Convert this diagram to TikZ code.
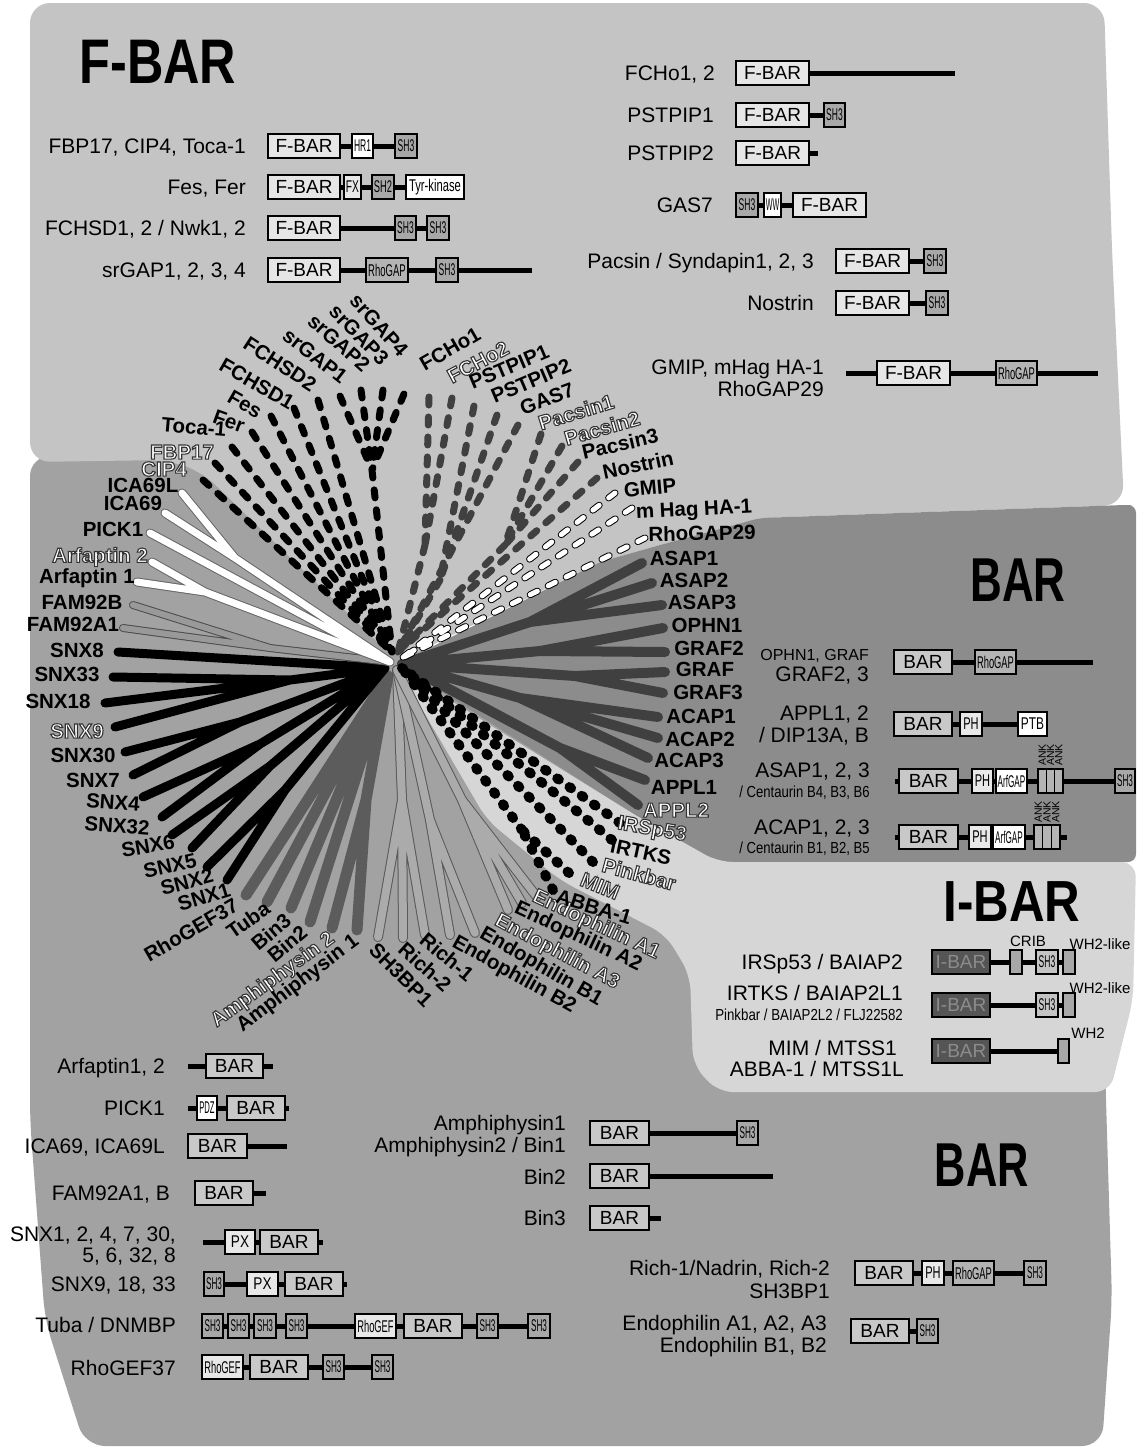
\documentclass[tikz,border=0pt]{standalone}
\usepackage{fontspec}
\setmainfont{Liberation Sans}
\definecolor{fbarbg}{HTML}{C4C4C4}
\definecolor{barbg}{HTML}{A2A2A2}
\definecolor{rbarbg}{HTML}{8C8C8C}
\definecolor{ibarbg}{HTML}{D6D6D6}
\definecolor{colF}{HTML}{E6E6E6}
\definecolor{colB}{HTML}{C8C8C8}
\definecolor{colS}{HTML}{A8A8A8}
\definecolor{colL}{HTML}{E8E8E8}
\definecolor{colR}{HTML}{B4B4B4}
\definecolor{colI}{HTML}{555555}
\definecolor{colIS}{HTML}{C4C4C4}
\pgfdeclarelayer{regions}
\pgfdeclarelayer{backbones}
\pgfsetlayers{regions,backbones,main}
\newcommand\nr[2][0.5]{\scalebox{#1}[1]{#2}}
\newcommand\ol[1]{{\color{white}\special{pdf:literal direct 2 Tr 1.1 w 0.2 G}#1\special{pdf:literal direct 0 Tr}}}
\newcommand\dm[7][dom]{\node[#1,fill=#6,minimum width={(#4-#3)*1pt}] (#2) at ({(#3+#4)/2},#5) {#7};}
\tikzset{
 dom/.style={draw=black,line width=1.3pt,minimum height=24pt,inner sep=0pt,font=\fontsize{19}{19}\selectfont},
 sm/.style={dom,font=\fontsize{17}{17}\selectfont},
 bb/.style={line width=5pt},
 lab/.style={anchor=base east,inner sep=0pt,font=\fontsize{21}{21}\selectfont,yshift=-7.5pt},
 slab/.style={anchor=base east,inner sep=0pt,font=\fontsize{16}{16}\selectfont,yshift=-5.7pt},
 tl/.style={inner sep=0pt,font=\fontsize{20.5}{20.5}\selectfont\bfseries},
 ttl/.style={inner sep=0pt},
 smallnote/.style={inner sep=0pt,font=\fontsize{15}{15}\selectfont},
 ank/.style={inner sep=0pt,rotate=90,font=\fontsize{10.5}{10.5}\selectfont},
 fbk/.style={line width=7pt,line cap=round,dash pattern=on 8pt off 12pt,draw=black},
 fdg/.style={line width=7pt,line cap=round,dash pattern=on 8pt off 12pt,draw=black!75},
 fwh/.style={line width=1pt,double=white,double distance=5pt,line cap=round,dash pattern=on 8pt off 12pt,draw=black},
 bwh/.style={line width=1pt,double=white,double distance=7pt,line cap=round,draw=black!60},
 bfam/.style={line width=1pt,double=black!40,double distance=6pt,line cap=round,draw=black!70},
 bsnx/.style={line width=9pt,line cap=round,draw=black},
 bamp/.style={line width=11pt,line cap=round,draw=black!64},
 brich/.style={line width=1pt,double=black!33,double distance=8pt,line cap=round,draw=black!65},
 basap/.style={line width=10pt,line cap=round,draw=black!75},
 bibar/.style={line width=10pt,line cap=round,dash pattern=on 2pt off 13pt,draw=black},
}
\begin{document}
\begin{tikzpicture}[x=1pt,y=-1pt]
\useasboundingbox (0,0) rectangle (1136,1456);
% ---------------- background regions
\begin{pgfonlayer}{regions}
\fill[white] (0,0) rectangle (1136,1456);
\fill[barbg,rounded corners=20pt] (30,456) -- (420,456) -- (420,640) -- (640,818) -- (718,862) -- (1105,1060) -- (1106,1100) -- (1112,1300) -- (1102,1446) -- (85,1446) -- (45,1320) -- (30,1120) -- cycle;
\fill[fbarbg,rounded corners=20pt] (30,462) -- (30,3) -- (1104,3) -- (1112,250) -- (1124,505) -- (760,518) -- (660,545) -- (600,562) -- (398,662) -- (200,470) -- (165,460) -- cycle;
\fill[rbarbg,rounded corners=8pt] (398,664) -- (600,562) -- (660,545) -- (760,518) -- (1124,505) -- (1136,505) -- (1136,862) -- (718,862) -- (640,818) -- cycle;
\fill[ibarbg,rounded corners=15pt] (398,668) -- (640,818) -- (718,862) -- (1136,862) -- (1133,1000) -- (1110,1092) -- (718,1092) -- (693,1065) -- (690,975) -- (666,935) -- (560,880) -- (487,820) -- cycle;
\end{pgfonlayer}
% ---------------- titles
\node[ttl] (tF) at (158,62) {\scalebox{0.8}[1]{\fontsize{63}{63}\selectfont\bfseries F-BAR}};
\node[ttl] (tB1) at (1018,580) {\scalebox{0.71}[1]{\fontsize{62}{62}\selectfont\bfseries BAR}};
\node[ttl] (tI) at (1012,902) {\scalebox{0.85}[1]{\fontsize{58}{58}\selectfont\bfseries I-BAR}};
\node[ttl] (tB2) at (982,1165) {\scalebox{0.70}[1]{\fontsize{62}{62}\selectfont\bfseries BAR}};
% ---------------- F-BAR rows, left
\node[lab] (a1t) at (246,146) {FBP17, CIP4, Toca-1};
\dm{a1f}{268}{340}{146}{colF}{F-BAR}
\dm[sm]{a1b}{352}{373}{146}{white}{\nr{HR1}}
\dm[sm]{a1c}{395}{417}{146}{colS}{\nr{SH3}}
\node[lab] (a2t) at (246,187) {Fes, Fer};
\dm{a2f}{268}{340}{187}{colF}{F-BAR}
\dm[sm]{a2b}{344}{361}{187}{colL}{\nr[0.6]{FX}}
\dm[sm]{a2c}{372}{394}{187}{colS}{\nr[0.55]{SH2}}
\dm[sm]{a2d}{406}{464}{187}{white}{\nr[0.66]{Tyr-kinase}}
\node[lab] (a3t) at (246,228) {FCHSD1, 2 / Nwk1, 2};
\dm{a3f}{268}{340}{228}{colF}{F-BAR}
\dm[sm]{a3b}{395}{416}{228}{colS}{\nr{SH3}}
\dm[sm]{a3c}{427}{449}{228}{colS}{\nr{SH3}}
\node[lab] (a4t) at (246,270) {srGAP1, 2, 3, 4};
\coordinate (a4e) at (532,270);
\dm{a4f}{268}{340}{270}{colF}{F-BAR}
\dm[sm]{a4b}{366}{408}{270}{colR}{\nr[0.56]{RhoGAP}}
\dm[sm]{a4c}{436}{458}{270}{colS}{\nr{SH3}}
% ---------------- F-BAR rows, right
\node[lab] (b1t) at (715,73) {FCHo1, 2};
\coordinate (b1e) at (955,73);
\dm{b1f}{736}{809}{73}{colF}{F-BAR}
\node[lab] (b2t) at (714,115) {PSTPIP1};
\dm{b2f}{736}{809}{115}{colF}{F-BAR}
\dm[sm]{b2b}{824}{845}{115}{colS}{\nr{SH3}}
\node[lab] (b3t) at (714,153) {PSTPIP2};
\coordinate (b3e) at (818,153);
\dm{b3f}{736}{809}{153}{colF}{F-BAR}
\node[lab] (b4t) at (713,205) {GAS7};
\dm[sm]{b4a}{736}{758}{205}{colS}{\nr{SH3}}
\dm[sm]{b4b}{764}{781}{205}{white}{\nr[0.42]{WW}}
\dm{b4f}{793}{866}{205}{colF}{F-BAR}
\node[lab] (b5t) at (814,261) {Pacsin / Syndapin1, 2, 3};
\dm{b5f}{836}{909}{261}{colF}{F-BAR}
\dm[sm]{b5b}{924}{946}{261}{colS}{\nr{SH3}}
\node[lab] (b6t) at (814,303) {Nostrin};
\dm{b6f}{836}{909}{303}{colF}{F-BAR}
\dm[sm]{b6b}{926}{948}{303}{colS}{\nr{SH3}}
\node[lab] (b7t) at (824,367) {GMIP, mHag HA-1};
\node[lab] (b7u) at (824,389) {RhoGAP29};
\coordinate (b7s) at (846,373);
\coordinate (b7e) at (1098,373);
\dm{b7f}{877}{950}{373}{colF}{F-BAR}
\dm[sm]{b7b}{996}{1037}{373}{colR}{\nr[0.55]{RhoGAP}}
% ---------------- BAR rows, right
\node[slab] (c1t) at (869,655) {OPHN1, GRAF};
\node[lab] (c1u) at (869,674) {GRAF2, 3};
\coordinate (c1e) at (1093,662);
\dm{c1f}{894}{952}{662}{colB}{BAR}
\dm[sm]{c1b}{975}{1016}{662}{colR}{\nr[0.55]{RhoGAP}}
\node[lab] (c2t) at (869,713) {APPL1, 2};
\node[lab] (c2u) at (869,735) {/ DIP13A, B};
\dm{c2f}{894}{952}{724}{colB}{BAR}
\dm[sm]{c2b}{960}{982}{724}{colL}{\nr[0.65]{PH}}
\dm[sm]{c2c}{1018}{1047}{724}{white}{\nr[0.7]{PTB}}
\node[lab] (c3t) at (870,770) {ASAP1, 2, 3};
\node[slab] (c3u) at (870,792) {\nr[0.82]{/ Centaurin B4, B3, B6}};
\coordinate (c3s) at (895,781);
\coordinate (c3e) at (1136,781);
\dm{c3f}{899}{958}{781}{colB}{BAR}
\dm[sm]{c3b}{972}{993}{781}{colL}{\nr[0.65]{PH}}
\dm[sm]{c3c}{996}{1027}{781}{white}{\nr[0.48]{ArfGAP}}
\dm[sm]{c3d1}{1038}{1046.3}{781}{colR}{}
\dm[sm]{c3d2}{1046.3}{1054.7}{781}{colR}{}
\dm[sm]{c3d3}{1054.7}{1063}{781}{colR}{}
\dm[sm]{c3g}{1115}{1135}{781}{colS}{\nr[0.48]{SH3}}
\node[ank] (c3k1) at (1042.2,755) {ANK};
\node[ank] (c3k2) at (1050.5,755) {ANK};
\node[ank] (c3k3) at (1058.8,755) {ANK};
\node[lab] (c4t) at (870,827) {ACAP1, 2, 3};
\node[slab] (c4u) at (870,848) {\nr[0.82]{/ Centaurin B1, B2, B5}};
\coordinate (c4s) at (895,837);
\coordinate (c4e) at (1067,837);
\dm{c4f}{899}{958}{837}{colB}{BAR}
\dm[sm]{c4b}{969}{991}{837}{colL}{\nr[0.65]{PH}}
\dm[sm]{c4c}{993}{1025}{837}{white}{\nr[0.48]{ArfGAP}}
\dm[sm]{c4d1}{1034}{1042.7}{837}{colR}{}
\dm[sm]{c4d2}{1042.7}{1051.3}{837}{colR}{}
\dm[sm]{c4d3}{1051.3}{1060}{837}{colR}{}
\node[ank] (c4k1) at (1038.3,812) {ANK};
\node[ank] (c4k2) at (1047,812) {ANK};
\node[ank] (c4k3) at (1055.7,812) {ANK};
% ---------------- I-BAR rows
\node[lab] (d1t) at (903,962) {IRSp53 / BAIAP2};
\dm{d1f}{932}{990}{962}{colI}{\color{black!45}I-BAR}
\dm[sm]{d1b}{1010}{1022}{962}{colS}{}
\dm[sm]{d1c}{1036}{1058}{962}{colIS}{\nr{SH3}}
\dm[sm]{d1d}{1063}{1075}{962}{colS}{}
\node[smallnote] (d1n) at (1028,941) {CRIB};
\node[smallnote] (d1w) at (1100,944) {WH2-like};
\node[lab] (d2t) at (903,993) {IRTKS / BAIAP2L1};
\node[slab] (d2u) at (903,1015) {\nr[0.83]{Pinkbar / BAIAP2L2 / FLJ22582}};
\dm{d2f}{932}{990}{1005}{colI}{\color{black!45}I-BAR}
\dm[sm]{d2c}{1036}{1058}{1005}{colIS}{\nr{SH3}}
\dm[sm]{d2d}{1063}{1075}{1005}{colS}{}
\node[smallnote] (d2w) at (1100,988) {WH2-like};
\node[lab] (d3t) at (897,1048) {MIM / MTSS1};
\node[lab] (d3u) at (904,1069) {ABBA-1 / MTSS1L};
\dm{d3f}{932}{990}{1051}{colI}{\color{black!45}I-BAR}
\dm[sm]{d3d}{1058}{1069}{1051}{colS}{}
\node[smallnote] (d3w) at (1088,1033) {WH2};
% ---------------- BAR rows, bottom left
\node[lab] (e1t) at (165,1066) {Arfaptin1, 2};
\coordinate (e1s) at (188,1066);
\coordinate (e1e) at (273,1066);
\dm{e1f}{206}{263}{1066}{colB}{BAR}
\node[lab] (e2t) at (165,1108) {PICK1};
\coordinate (e2s) at (188,1108);
\coordinate (e2e) at (289,1108);
\dm[sm]{e2a}{197}{217}{1108}{white}{\nr[0.45]{PDZ}}
\dm{e2f}{227}{285}{1108}{colB}{BAR}
\node[lab] (e3t) at (165,1146) {ICA69, ICA69L};
\coordinate (e3e) at (287,1146);
\dm{e3f}{188}{247}{1146}{colB}{BAR}
\node[lab] (e4t) at (170,1193) {FAM92A1, B};
\coordinate (e4e) at (266,1193);
\dm{e4f}{195}{253}{1193}{colB}{BAR}
\node[lab] (e5t) at (176,1234) {SNX1, 2, 4, 7, 30,};
\node[lab] (e5u) at (176,1255) {5, 6, 32, 8};
\coordinate (e5s) at (203,1242);
\coordinate (e5e) at (323,1242);
\dm[sm]{e5a}{225}{255}{1242}{colL}{\nr[0.8]{PX}}
\dm{e5f}{260}{318}{1242}{colB}{BAR}
\node[lab] (e6t) at (176,1284) {SNX9, 18, 33};
\coordinate (e6e) at (347,1284);
\dm[sm]{e6a}{204}{224}{1284}{colS}{\nr[0.48]{SH3}}
\dm[sm]{e6b}{247}{278}{1284}{colL}{\nr[0.8]{PX}}
\dm{e6f}{285}{343}{1284}{colB}{BAR}
\node[lab] (e7t) at (176,1325) {Tuba / DNMBP};
\dm[sm]{e7a}{202}{223}{1326}{colS}{\nr[0.48]{SH3}}
\dm[sm]{e7b}{228}{249}{1326}{colS}{\nr[0.48]{SH3}}
\dm[sm]{e7c}{254}{276}{1326}{colS}{\nr[0.48]{SH3}}
\dm[sm]{e7d}{286}{307}{1326}{colS}{\nr[0.48]{SH3}}
\dm[sm]{e7e}{355}{396}{1326}{colL}{\nr[0.55]{RhoGEF}}
\dm{e7f}{404}{462}{1326}{colB}{BAR}
\dm[sm]{e7g}{477}{498}{1326}{colS}{\nr[0.48]{SH3}}
\dm[sm]{e7h}{528}{550}{1326}{colS}{\nr[0.48]{SH3}}
\node[lab] (e8t) at (176,1368) {RhoGEF37};
\dm[sm]{e8a}{202}{243}{1367}{colL}{\nr[0.55]{RhoGEF}}
\dm{e8f}{250}{308}{1367}{colB}{BAR}
\dm[sm]{e8b}{323}{344}{1367}{colS}{\nr[0.48]{SH3}}
\dm[sm]{e8c}{372}{393}{1367}{colS}{\nr[0.48]{SH3}}
% ---------------- BAR rows, bottom middle/right
\node[lab] (f1t) at (566,1123) {Amphiphysin1};
\node[lab] (f1u) at (566,1145) {Amphiphysin2 / Bin1};
\dm{f1f}{590}{649}{1133}{colB}{BAR}
\dm[sm]{f1b}{737}{758}{1133}{colS}{\nr[0.48]{SH3}}
\node[lab] (f2t) at (566,1177) {Bin2};
\coordinate (f2e) at (773,1176);
\dm{f2f}{590}{649}{1176}{colB}{BAR}
\node[lab] (f3t) at (566,1218) {Bin3};
\coordinate (f3e) at (661,1218);
\dm{f3f}{590}{649}{1218}{colB}{BAR}
\node[lab] (g1t) at (830,1268) {Rich-1/Nadrin, Rich-2};
\node[lab] (g1u) at (830,1291) {SH3BP1};
\dm{g1f}{855}{913}{1273}{colB}{BAR}
\dm[sm]{g1b}{922}{944}{1273}{colL}{\nr[0.65]{PH}}
\dm[sm]{g1c}{953}{994}{1273}{colR}{\nr[0.55]{RhoGAP}}
\dm[sm]{g1d}{1024}{1046}{1273}{colS}{\nr[0.48]{SH3}}
\node[lab] (g2t) at (827,1323) {Endophilin A1, A2, A3};
\node[lab] (g2u) at (827,1345) {Endophilin B1, B2};
\dm{g2f}{851}{909}{1331}{colB}{BAR}
\dm[sm]{g2b}{917}{938}{1331}{colS}{\nr[0.48]{SH3}}
% ---------------- backbones
\begin{pgfonlayer}{backbones}
\draw[bb] (a1f.east) -- (a1c.west);
\draw[bb] (a2f.east) -- (a2d.west);
\draw[bb] (a3f.east) -- (a3c.west);
\draw[bb] (a4f.east) -- (a4e);
\draw[bb] (b1f.east) -- (b1e);
\draw[bb] (b2f.east) -- (b2b.west);
\draw[bb] (b3f.east) -- (b3e);
\draw[bb] (b4a.east) -- (b4f.west);
\draw[bb] (b5f.east) -- (b5b.west);
\draw[bb] (b6f.east) -- (b6b.west);
\draw[bb] (b7s) -- (b7e);
\draw[bb] (c1f.east) -- (c1e);
\draw[bb] (c2f.east) -- (c2c.west);
\draw[bb] (c3s) -- (c3e);
\draw[bb] (c4s) -- (c4e);
\draw[bb] (d1f.east) -- (d1d.west);
\draw[bb] (d2f.east) -- (d2d.west);
\draw[bb] (d3f.east) -- (d3d.west);
\draw[bb] (e1s) -- (e1e);
\draw[bb] (e2s) -- (e2e);
\draw[bb] (e3f.east) -- (e3e);
\draw[bb] (e4f.east) -- (e4e);
\draw[bb] (e5s) -- (e5e);
\draw[bb] (e6a.east) -- (e6e);
\draw[bb] (e7a.east) -- (e7h.west);
\draw[bb] (e8a.east) -- (e8c.west);
\draw[bb] (f1f.east) -- (f1b.west);
\draw[bb] (f2f.east) -- (f2e);
\draw[bb] (f3f.east) -- (f3e);
\draw[bb] (g1f.east) -- (g1d.west);
\draw[bb] (g2f.east) -- (g2b.west);
\end{pgfonlayer}
% ---------------- tree: centres and junctions
\coordinate (cF) at (392,652);
\coordinate (cG) at (398,652);
\coordinate (cWd) at (402,658);
\coordinate (cW) at (390,662);
\coordinate (cS) at (385,668);
\coordinate (cA) at (388,676);
\coordinate (cR) at (397,670);
\coordinate (cI) at (402,668);
\coordinate (cB) at (402,664);
% tips
\coordinate (tCIP4) at (203,480);
\coordinate (tFBP17) at (215,463);
\coordinate (tToca) at (232,447);
\coordinate (tFer) at (252,432);
\coordinate (tFes) at (271,416);
\coordinate (tFCHSD1) at (294,408);
\coordinate (tFCHSD2) at (318,400);
\coordinate (tsr1) at (340,396);
\coordinate (tsr2) at (361,390);
\coordinate (tsr3) at (383,390);
\coordinate (tsr4) at (404,394);
\coordinate (jSR) at (372,470);
\coordinate (tFCHo1) at (429,397);
\coordinate (tFCHo2) at (452,398);
\coordinate (tPST1) at (474,406);
\coordinate (tPST2) at (497,415);
\coordinate (tGAS7) at (518,425);
\coordinate (tPac1) at (541,434);
\coordinate (tPac2) at (562,446);
\coordinate (tPac3) at (578,462);
\coordinate (tNos) at (597,478);
\coordinate (jFCHo) at (425,545);
\coordinate (jPST) at (440,580);
\coordinate (jPAC) at (505,545);
\coordinate (tGMIP) at (615,493);
\coordinate (tmHag) at (632,508);
\coordinate (tRG29) at (645,538);
\coordinate (tICAL) at (182,493);
\coordinate (tICA) at (165,513);
\coordinate (tPICK) at (150,533);
\coordinate (tArf2) at (152,562);
\coordinate (tArf1) at (137,582);
\coordinate (jICA) at (235,558);
\coordinate (jARF) at (205,592);
\coordinate (tFAMB) at (133,605);
\coordinate (tFAMA) at (123,628);
\coordinate (jFAM) at (270,648);
\coordinate (tSNX8) at (118,652);
\coordinate (tSNX33) at (113,677);
\coordinate (tSNX18) at (105,703);
\coordinate (tSNX9) at (115,727);
\coordinate (tSNX30) at (125,752);
\coordinate (tSNX7) at (133,775);
\coordinate (tSNX4) at (143,797);
\coordinate (tSNX32) at (162,817);
\coordinate (tSNX6) at (172,835);
\coordinate (tSNX5) at (192,848);
\coordinate (tSNX2) at (207,867);
\coordinate (tSNX1) at (227,880);
\coordinate (jSa) at (290,680);
\coordinate (jSb) at (240,722);
\coordinate (jSc) at (260,744);
\coordinate (jSd) at (270,766);
\coordinate (jSe) at (285,790);
\coordinate (tRGEF) at (246,895);
\coordinate (tTuba) at (267,902);
\coordinate (tBin3) at (291,908);
\coordinate (tBin2) at (310,922);
\coordinate (tAmp2) at (332,928);
\coordinate (tAmp1) at (357,930);
\coordinate (jAM) at (366,800);
\coordinate (tSH3BP1) at (378,937);
\coordinate (tRich2) at (403,938);
\coordinate (tRich1) at (425,935);
\coordinate (tEB2) at (450,935);
\coordinate (tEB1) at (475,933);
\coordinate (tEA3) at (508,910);
\coordinate (tEA2) at (522,903);
\coordinate (tEA1) at (537,897);
\coordinate (jRI) at (402,800);
\coordinate (jEB) at (430,820);
\coordinate (jEA) at (462,800);
\coordinate (tIRS) at (620,823);
\coordinate (tIRT) at (612,840);
\coordinate (tPink) at (593,862);
\coordinate (tMIM) at (569,873);
\coordinate (tABBA) at (553,890);
\coordinate (jMA) at (522,830);
\coordinate (tASAP1) at (642,563);
\coordinate (tASAP2) at (652,583);
\coordinate (tASAP3) at (662,605);
\coordinate (tOPHN1) at (663,628);
\coordinate (tGRAF2) at (665,652);
\coordinate (tGRAF) at (665,672);
\coordinate (tGRAF3) at (663,693);
\coordinate (tACAP1) at (658,717);
\coordinate (tACAP2) at (658,738);
\coordinate (tACAP3) at (648,758);
\coordinate (tAPPL1) at (645,780);
\coordinate (tAPPL2) at (638,805);
\coordinate (jAS) at (530,622);
\coordinate (jOG) at (540,651);
\coordinate (jG3) at (575,676);
\coordinate (jAC) at (520,698);
\coordinate (jAP) at (560,748);
% ---------------- tree branches
\draw[bamp] (tRGEF) -- (cA) (tTuba) -- (cA) (tBin3) -- (cA) (tBin2) -- (cA) (tAmp2) -- (jAM) (tAmp1) -- (jAM) (jAM) -- (cA);
\draw[brich] (tSH3BP1) -- (jRI) (tRich2) -- (jRI) (tRich1) -- (jRI) (jRI) -- (cR);
\draw[brich] (tEB2) -- (jEB) (tEB1) -- (jEB) (jEB) -- (cR);
\draw[brich] (tEA3) -- (jEA) (tEA2) -- (jEA) (tEA1) -- (jEA) (jEA) -- (cR);
\draw[bsnx] (tSNX8) -- (cS) (tSNX33) -- (jSa) (tSNX18) -- (jSa) (tSNX9) -- (jSa) (jSa) -- (cS)
  (tSNX30) -- (jSb) (tSNX7) -- (jSb) (jSb) -- (cS) (tSNX4) -- (jSc) (tSNX32) -- (jSc) (jSc) -- (cS)
  (tSNX6) -- (jSd) (tSNX5) -- (jSd) (jSd) -- (cS) (tSNX2) -- (jSe) (tSNX1) -- (jSe) (jSe) -- (cS);
\draw[bfam] (tFAMB) -- (jFAM) -- (cW) (tFAMA) -- (jFAM);
\draw[bwh] (tICAL) -- (jICA) -- (cW) (tICA) -- (jICA) (tPICK) -- (cW) (tArf2) -- (jARF) -- (cW) (tArf1) -- (jARF);
\draw[basap] (tASAP1) -- (jAS) (tASAP2) -- (jAS) (tASAP3) -- (jAS) (jAS) -- (cB)
  (tOPHN1) -- (jOG) (tGRAF2) -- (jOG) (jOG) -- (cB) (tGRAF) -- (jG3) (tGRAF3) -- (jG3) (jG3) -- (cB)
  (tACAP1) -- (jAC) (tACAP2) -- (jAC) (tACAP3) -- (jAC) (jAC) -- (cB) (tAPPL1) -- (jAP) (tAPPL2) -- (jAP) (jAP) -- (cB);
\draw[bibar] (tIRS) -- (cI) (tIRT) -- (cI) (tPink) -- (cI) (tMIM) -- (jMA) (tABBA) -- (jMA) (jMA) -- (cI);
\draw[fwh] (tGMIP) -- (cWd) (tmHag) -- (cWd) (tRG29) -- (cWd);
\draw[fdg] (tFCHo1) -- (jFCHo) (tFCHo2) -- (jFCHo) (jFCHo) -- (cG) (tPST1) -- (jPST) (tPST2) -- (jPST) (jPST) -- (cG)
  (tGAS7) -- (cG) (tPac1) -- (jPAC) (tPac2) -- (jPAC) (tPac3) -- (jPAC) (jPAC) -- (cG) (tNos) -- (cG);
\draw[fbk] (tCIP4) -- (cF) (tFBP17) -- (cF) (tToca) -- (cF) (tFer) -- (cF) (tFes) -- (cF) (tFCHSD1) -- (cF) (tFCHSD2) -- (cF)
  (tsr1) -- (jSR) (tsr2) -- (jSR) (tsr3) -- (jSR) (tsr4) -- (jSR) (jSR) -- (cF);
% ---------------- tree labels
\node[tl,rotate=-5] (lToca) at (194,427) {Toca-1};
\node[tl,rotate=-20] (lFer) at (229,421) {Fer};
\node[tl,rotate=-30] (lFes) at (245,404) {Fes};
\node[tl,rotate=-30] (lFCHSD1) at (257,384) {FCHSD1};
\node[tl,rotate=-33] (lFCHSD2) at (280,364) {FCHSD2};
\node[tl,rotate=-38] (lsr1) at (315,356) {srGAP1};
\node[tl,rotate=-42] (lsr2) at (339,343) {srGAP2};
\node[tl,rotate=-46] (lsr3) at (359,335) {srGAP3};
\node[tl,rotate=-48] (lsr4) at (379,325) {srGAP4};
\node[tl,rotate=30] (lFCHo1) at (450,349) {FCHo1};
\node[tl,rotate=28] (lFCHo2) at (478,362) {\ol{FCHo2}};
\node[tl,rotate=23] (lPST1) at (509,367) {PSTPIP1};
\node[tl,rotate=23] (lPST2) at (531,381) {PSTPIP2};
\node[tl,rotate=20] (lGAS7) at (547,399) {GAS7};
\node[tl,rotate=17] (lPac1) at (576,412) {\ol{Pacsin1}};
\node[tl,rotate=16] (lPac2) at (602,428) {\ol{Pacsin2}};
\node[tl,rotate=13] (lPac3) at (620,444) {Pacsin3};
\node[tl,rotate=12] (lNos) at (638,465) {Nostrin};
\node[tl,rotate=5] (lGMIP) at (650,488) {GMIP};
\node[tl,rotate=3] (lmHag) at (694,511) {m Hag HA-1};
\node[tl,rotate=1] (lRG29) at (702,533) {RhoGAP29};
\node[tl] (lFBP17) at (182,452) {\ol{FBP17}};
\node[tl] (lCIP4) at (164,469) {\ol{CIP4}};
\node[tl] (lICAL) at (143,485) {ICA69L};
\node[tl] (lICA) at (133,503) {ICA69};
\node[tl] (lPICK) at (113,529) {PICK1};
\node[tl] (lArf2) at (100,557) {\ol{Arfaptin 2}};
\node[tl] (lArf1) at (87,578) {Arfaptin 1};
\node[tl] (lFAMB) at (82,602) {FAM92B};
\node[tl] (lFAMA) at (73,624) {FAM92A1};
\node[tl] (lSNX8) at (77,650) {SNX8};
\node[tl] (lSNX33) at (67,674) {SNX33};
\node[tl] (lSNX18) at (58,701) {SNX18};
\node[tl] (lSNX9) at (77,731) {\ol{SNX9}};
\node[tl] (lSNX30) at (83,755) {SNX30};
\node[tl] (lSNX7) at (93,780) {SNX7};
\node[tl,rotate=-4] (lSNX4) at (113,802) {SNX4};
\node[tl,rotate=-4] (lSNX32) at (117,826) {SNX32};
\node[tl,rotate=10] (lSNX6) at (148,846) {SNX6};
\node[tl,rotate=13] (lSNX5) at (170,866) {SNX5};
\node[tl,rotate=15] (lSNX2) at (187,882) {SNX2};
\node[tl,rotate=17] (lSNX1) at (204,897) {SNX1};
\node[tl,rotate=30] (lRGEF) at (191,930) {RhoGEF37};
\node[tl,rotate=35] (lTuba) at (248,920) {Tuba};
\node[tl,rotate=40] (lBin3) at (271,932) {Bin3};
\node[tl,rotate=40] (lBin2) at (287,944) {Bin2};
\node[tl,rotate=36] (lAmp2) at (273,980) {\ol{Amphiphysin 2}};
\node[tl,rotate=37] (lAmp1) at (298,984) {Amphiphysin 1};
\node[tl,rotate=-45] (lSH3BP1) at (401,975) {SH3BP1};
\node[tl,rotate=-42] (lRich2) at (425,967) {Rich-2};
\node[tl,rotate=-40] (lRich1) at (447,957) {Rich-1};
\node[tl,rotate=-29] (lEB2) at (514,975) {Endophilin B2};
\node[tl,rotate=-30] (lEB1) at (541,967) {Endophilin B1};
\node[tl,rotate=-28] (lEA3) at (557,952) {\ol{Endophilin A3}};
\node[tl,rotate=-25] (lEA2) at (578,937) {Endophilin A2};
\node[tl,rotate=-25] (lEA1) at (596,925) {\ol{Endophilin A1}};
\node[tl,rotate=-17] (lABBA) at (594,907) {ABBA-1};
\node[tl,rotate=-22] (lMIM) at (600,886) {\ol{MIM}};
\node[tl,rotate=-15] (lPink) at (639,874) {\ol{Pinkbar}};
\node[tl,rotate=-12] (lIRT) at (641,852) {IRTKS};
\node[tl,rotate=-10] (lIRS) at (652,830) {\ol{IRSp53}};
\node[tl] (lASAP1) at (684,558) {ASAP1};
\node[tl] (lASAP2) at (694,580) {ASAP2};
\node[tl] (lASAP3) at (702,602) {ASAP3};
\node[tl] (lOPHN1) at (707,625) {OPHN1};
\node[tl] (lGRAF2) at (709,648) {GRAF2};
\node[tl] (lGRAF) at (705,669) {GRAF};
\node[tl] (lGRAF3) at (708,692) {GRAF3};
\node[tl] (lACAP1) at (701,716) {ACAP1};
\node[tl] (lACAP2) at (700,739) {ACAP2};
\node[tl] (lACAP3) at (689,760) {ACAP3};
\node[tl] (lAPPL1) at (684,787) {APPL1};
\node[tl] (lAPPL2) at (676,810) {\ol{APPL2}};
\end{tikzpicture}
\end{document}
